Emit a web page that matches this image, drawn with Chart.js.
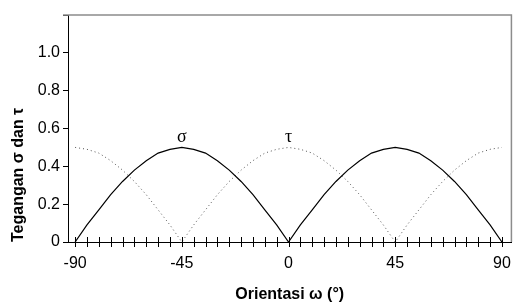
<!DOCTYPE html>
<html>
<head>
<meta charset="utf-8">
<script src="https://cdn.jsdelivr.net/npm/chart.js@4"></script>
<style>
  html, body { margin: 0; padding: 0; background: #fff; }
  #wrap { width: 523px; height: 304px; }
</style>
</head>
<body>
<div id="wrap"><canvas id="chart" width="523" height="304"></canvas></div>
<script>
// orientation angle (degrees), read every 5 degrees
var angles = [-90, -85, -80, -75, -70, -65, -60, -55, -50, -45, -40, -35, -30, -25, -20, -15, -10, -5,
              0, 5, 10, 15, 20, 25, 30, 35, 40, 45, 50, 55, 60, 65, 70, 75, 80, 85, 90];
// normal stress sigma (solid)
var sigmaVals = [0, 0.09, 0.17, 0.25, 0.32, 0.38, 0.43, 0.47, 0.49, 0.50, 0.49, 0.47, 0.43, 0.38, 0.32, 0.25, 0.17, 0.09,
                 0, 0.09, 0.17, 0.25, 0.32, 0.38, 0.43, 0.47, 0.49, 0.50, 0.49, 0.47, 0.43, 0.38, 0.32, 0.25, 0.17, 0.09, 0];
// shear stress tau (dotted)
var tauVals = [0.50, 0.49, 0.47, 0.43, 0.38, 0.32, 0.25, 0.17, 0.09, 0, 0.09, 0.17, 0.25, 0.32, 0.38, 0.43, 0.47, 0.49,
               0.50, 0.49, 0.47, 0.43, 0.38, 0.32, 0.25, 0.17, 0.09, 0, 0.09, 0.17, 0.25, 0.32, 0.38, 0.43, 0.47, 0.49, 0.50];

var xLabels = [-90, -45, 0, 45, 90];
var xTickVals = [];
for (let v = -90; v <= 90; v += 5) xTickVals.push(v);
var yTickVals = [0, 0.2, 0.4, 0.6, 0.8, 1.0, 1.2];

// name and anchor of each curve label
var curveLabels = [
    { text: 'σ', x: -45, y: 0.5 },
    { text: 'τ', x: 0, y: 0.5 }
];

function toPoints(xs, ys) {
    return xs.map((x, i) => ({ x: x, y: ys[i] }));
}

var fontFam = 'Arial, "Liberation Sans", sans-serif';

// frame, crossing ticks on the x axis, and curve labels
var extras = {
    id: 'extras',
    afterDraw(chart) {
        const ctx = chart.ctx;
        const a = chart.chartArea;
        const xs = chart.scales.x, ys = chart.scales.y;
        ctx.save();
        ctx.strokeStyle = '#8c8c8c';
        ctx.lineWidth = 1.5;
        ctx.beginPath();
        ctx.moveTo(a.left - 5, a.top);
        ctx.lineTo(a.right, a.top);
        ctx.lineTo(a.right, a.bottom);
        ctx.stroke();

        ctx.strokeStyle = '#000';
        ctx.lineWidth = 1;
        ctx.beginPath();
        xTickVals.forEach(v => {
            const px = Math.round(xs.getPixelForValue(v)) + 0.5;
            ctx.moveTo(px, a.bottom - 5);
            ctx.lineTo(px, a.bottom + 5);
        });
        ctx.stroke();

        ctx.fillStyle = '#000';
        ctx.font = '18px "Liberation Serif", serif';
        ctx.textAlign = 'center';
        ctx.textBaseline = 'bottom';
        curveLabels.forEach(l => {
            ctx.fillText(l.text, xs.getPixelForValue(l.x), ys.getPixelForValue(l.y) - 1);
        });
        ctx.restore();
    }
};

new Chart(document.getElementById('chart').getContext('2d'), {
    type: 'line',
    data: {
        datasets: [{
            label: 'σ',
            data: toPoints(angles, sigmaVals),
            borderColor: '#000',
            borderWidth: 1.2,
            pointRadius: 0,
            tension: 0
        }, {
            label: 'τ',
            data: toPoints(angles, tauVals),
            borderColor: '#555',
            borderWidth: 1,
            borderDash: [1, 3],
            pointRadius: 0,
            tension: 0
        }]
    },
    options: {
        responsive: false,
        animation: false,
        layout: { padding: { top: 15, right: 8, left: 0, bottom: 0 } },
        plugins: { legend: { display: false }, tooltip: { enabled: false } },
        scales: {
            x: {
                type: 'linear',
                min: -93,
                max: 94,
                afterBuildTicks: s => { s.ticks = xTickVals.map(v => ({ value: v })); },
                afterFit: s => { s.height = 62; },
                grid: { display: true, drawOnChartArea: false, drawTicks: false },
                border: { color: '#000', width: 1 },
                ticks: {
                    padding: 12,
                    color: '#000',
                    autoSkip: false,
                    maxRotation: 0,
                    font: { family: fontFam, size: 16 },
                    callback: v => xLabels.includes(v) ? String(v) : ''
                },
                title: {
                    display: true,
                    text: 'Orientasi ω (°)',
                    color: '#000',
                    font: { family: fontFam, size: 16, weight: 'bold' },
                    padding: { top: 4, bottom: 0 }
                }
            },
            y: {
                min: 0,
                max: 1.2,
                afterBuildTicks: s => { s.ticks = yTickVals.map(v => ({ value: v })); },
                afterFit: s => { s.width = 68; },
                grid: { display: true, drawOnChartArea: false, drawTicks: true, tickLength: 5, color: '#000' },
                border: { color: '#000', width: 1 },
                ticks: {
                    padding: 3,
                    color: '#000',
                    font: { family: fontFam, size: 16 },
                    callback: v => v > 1.1 ? '' : (v === 0 ? '0' : v.toFixed(1))
                },
                title: {
                    display: true,
                    text: 'Tegangan σ dan τ',
                    align: 'start',
                    color: '#000',
                    font: { family: fontFam, size: 16, weight: 'bold' },
                    padding: { top: 9, bottom: 0 }
                }
            }
        }
    },
    plugins: [extras]
});
</script>
</body>
</html>
